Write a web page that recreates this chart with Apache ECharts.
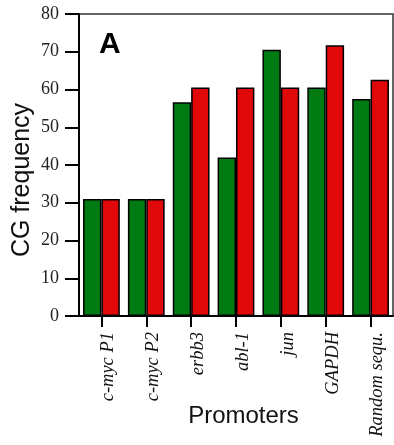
<!DOCTYPE html>
<html><head><meta charset="utf-8">
<script src="https://cdn.jsdelivr.net/npm/echarts@6/dist/echarts.min.js"></script>
<style>html,body{margin:0;padding:0;background:#fff}#c{width:394px;height:445px}</style>
</head><body><div id="c"></div>
<script>
var categories = ["c-myc P1", "c-myc P2", "erbb3", "abl-1", "jun", "GAPDH", "Random sequ."];
var greenValues = [31, 31, 56.6, 42, 70.5, 60.5, 57.5];
var redValues = [31, 31, 60.5, 60.5, 60.5, 71.7, 62.6];
var yTicks = {min: 0, max: 80, interval: 10};

var chart = echarts.init(document.getElementById('c'), null, {renderer: 'canvas'});
chart.setOption({
  animation: false,
  grid: {left: 79, right: 1, top: 14, bottom: 129, show: true, borderColor: '#333', borderWidth: 1.5, containLabel: false, outerBoundsMode: 'none'},
  graphic: [{type: 'text', left: 99, top: 30, style: {text: 'A', font: 'bold 30px "Liberation Sans", Arial, sans-serif', fill: '#000'}}],
  xAxis: {
    type: 'category', data: categories,
    name: 'Promoters', nameLocation: 'middle', nameGap: 88, nameMoveOverlap: false,
    nameTextStyle: {fontFamily: '"Liberation Sans", Arial, sans-serif', fontSize: 24, color: '#111', padding: [0, 0, 0, 15]},
    axisLine: {show: true, lineStyle: {color: '#000', width: 2}},
    axisTick: {show: true, inside: false, interval: 0, alignWithLabel: true, length: 11, lineStyle: {color: '#000', width: 2}},
    axisLabel: {rotate: 90, interval: 0, margin: 16, verticalAlign: 'top', lineHeight: 14, fontFamily: '"Liberation Serif", "Times New Roman", serif', fontStyle: 'italic', fontSize: 18.5, color: '#111'}
  },
  yAxis: {
    type: 'value', min: yTicks.min, max: yTicks.max, interval: yTicks.interval,
    name: 'CG frequency', nameLocation: 'middle', nameGap: 44, nameMoveOverlap: false,
    nameTextStyle: {fontFamily: '"Liberation Sans", Arial, sans-serif', fontSize: 25, color: '#111', padding: [0, 30, 0, 0]},
    axisLine: {show: true, lineStyle: {color: '#000', width: 2}},
    axisTick: {show: true, length: 14, lineStyle: {color: '#000', width: 2}},
    axisLabel: {margin: 20, fontFamily: '"Liberation Serif", "Times New Roman", serif', fontSize: 18, color: '#222'},
    splitLine: {show: false}
  },
  series: [
    {type: 'bar', data: greenValues, barGap: '0%', barCategoryGap: '18%', itemStyle: {color: '#007A12', borderColor: '#000', borderWidth: 1.5}},
    {type: 'bar', data: redValues, itemStyle: {color: '#E00808', borderColor: '#000', borderWidth: 1.5}}
  ]
});
</script></body></html>
